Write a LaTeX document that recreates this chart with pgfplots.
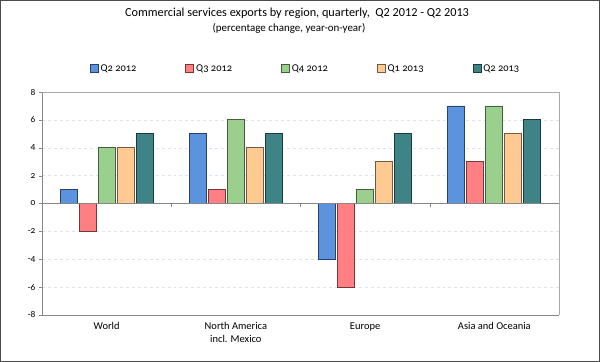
\documentclass[border=0pt]{standalone}
\usepackage{fontspec}
\setmainfont{Carlito}
\newfontfamily\osf{Carlito}[Numbers=OldStyle]
\usepackage{pgfplots}
\pgfplotsset{compat=1.18}
\definecolor{cblue}{HTML}{5B93DE}
\definecolor{cred}{HTML}{FF7F82}
\definecolor{cgreen}{HTML}{9BCF8E}
\definecolor{corange}{HTML}{FFC992}
\definecolor{cteal}{HTML}{3E8486}
\definecolor{gridc}{HTML}{DCE3F2}
\definecolor{axc}{HTML}{868686}
\begin{document}
\begin{tikzpicture}
\useasboundingbox (0,0) rectangle (600bp,362bp);
\draw[line width=1.2bp, color=black!70] (0.6bp,0.6bp) rectangle (599.4bp,361.4bp);
\node[font=\fontsize{12.3}{14}\selectfont, anchor=center] at (297bp,349bp) {Commercial services exports by region, quarterly,\ \ Q2 2012 - Q2 2013};
\node[font=\osf\fontsize{11}{13}\selectfont, anchor=center] at (289bp,334bp) {(percentage change, year-on-year)};
\begin{axis}[
  at={(42bp,47bp)}, anchor=south west,
  width=517bp, height=223bp, scale only axis,
  ymin=-8, ymax=8, ytick={-8,-6,...,8},
  xmin=-0.5, xmax=3.5,
  xtick={0,1,2,3},
  xticklabels={World, {North America\\incl. Mexico}, Europe, Asia and Oceania},
  xticklabel style={align=center, font=\osf\fontsize{10.5}{13}\selectfont, yshift=-1bp},
  yticklabel style={font=\osf\fontsize{9.5}{11}\selectfont},
  /pgf/number format/assume math mode=true,
  tick align=outside,
  xtick style={draw=none},
  ytick style={axc},
  major tick length=3bp,
  ymajorgrids, grid style={gridc, dashed, line width=0.5pt},
  axis line style={axc},
  axis x line*=bottom,
  axis y line*=left,
  ybar, bar width=17bp,
  legend style={at={(0.5,1.0)}, anchor=south, yshift=15bp, xshift=5bp, draw=none, fill=none,
    legend columns=5, font=\osf\fontsize{10.5}{12}\selectfont,
    /tikz/every even column/.append style={column sep=47bp}},
  legend image code/.code={\draw[#1] (0bp,-4bp) rectangle (8bp,4bp);},
  clip=false,
]
\addplot[fill=cblue, draw=cblue!45!black, line width=0.8pt] coordinates {(0,1) (1,5) (2,-4) (3,7)};
\addplot[fill=cred, draw=cred!45!black, line width=0.8pt] coordinates {(0,-2) (1,1) (2,-6) (3,3)};
\addplot[fill=cgreen, draw=cgreen!45!black, line width=0.8pt] coordinates {(0,4) (1,6) (2,1) (3,7)};
\addplot[fill=corange, draw=corange!45!black, line width=0.8pt] coordinates {(0,4) (1,4) (2,3) (3,5)};
\addplot[fill=cteal, draw=cteal!45!black, line width=0.8pt] coordinates {(0,5) (1,5) (2,5) (3,6)};
\legend{Q2 2012, Q3 2012, Q4 2012, Q1 2013, Q2 2013}
\coordinate (zl) at (axis cs:-0.5,0);
\coordinate (zr) at (axis cs:3.5,0);
\coordinate (tl) at (axis cs:-0.5,8);
\coordinate (tr) at (axis cs:3.5,8);
\coordinate (br) at (axis cs:3.5,-8);
\coordinate (c1) at (axis cs:0.5,0);
\coordinate (c2) at (axis cs:1.5,0);
\coordinate (c3) at (axis cs:2.5,0);
\end{axis}
\draw[axc] (zl) -- (zr);
\draw[axc!70] (tl) -- (tr) -- (br);
\foreach \cc in {c1,c2,c3} {\draw[axc] (\cc) -- ++(0,-3bp);}
\end{tikzpicture}
\end{document}
